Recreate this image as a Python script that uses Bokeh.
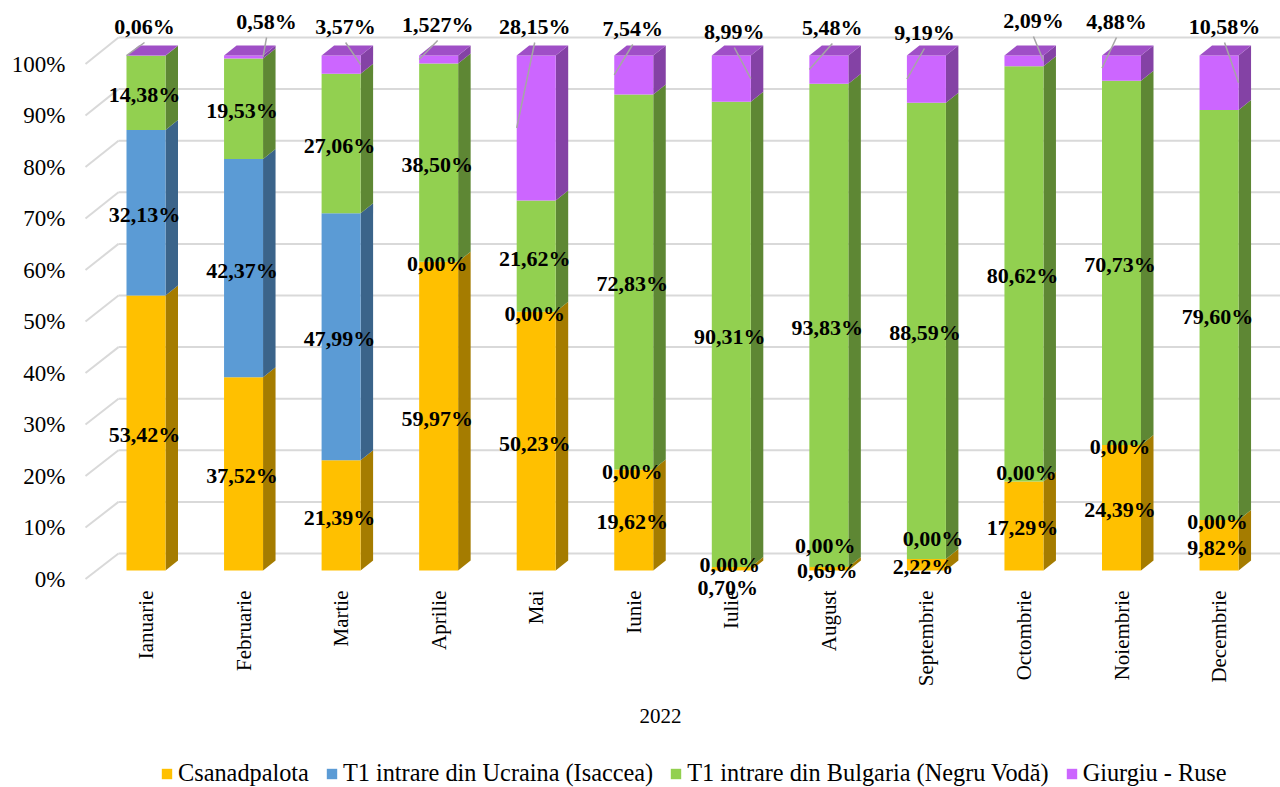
import math
from bokeh.plotting import figure
from bokeh.models import (Range1d, LinearAxis, FixedTicker, ColumnDataSource,
                          LabelSet, Legend, LegendItem)
from bokeh.core.properties import value
from bokeh.embed import file_html
from bokeh.resources import INLINE

# ---------------- data ----------------
months = ["Ianuarie", "Februarie", "Martie", "Aprilie", "Mai", "Iunie", "Iulie",
          "August", "Septembrie", "Octombrie", "Noiembrie", "Decembrie"]
series_names = ["Csanadpalota", "T1 intrare din Ucraina (Isaccea)",
                "T1 intrare din Bulgaria (Negru Vodă)", "Giurgiu - Ruse"]
csanadpalota = [53.42, 37.52, 21.39, 59.97, 50.23, 19.62, 0.70, 0.69, 2.22, 17.29, 24.39, 9.82]
isaccea = [32.13, 42.37, 47.99, 0.00, 0.00, 0.00, 0.00, 0.00, 0.00, 0.00, 0.00, 0.00]
negru_voda = [14.38, 19.53, 27.06, 38.50, 21.62, 72.83, 90.31, 93.83, 88.59, 80.62, 70.73, 79.60]
giurgiu_ruse = [0.06, 0.58, 3.57, 1.527, 28.15, 7.54, 8.99, 5.48, 9.19, 2.09, 4.88, 10.58]
y_ticks = [0, 10, 20, 30, 40, 50, 60, 70, 80, 90, 100]
x_title = "2022"

series_values = [csanadpalota, isaccea, negru_voda, giurgiu_ruse]

# ---------------- style / layout ----------------
front_colors = ["#FFC000", "#5B9BD5", "#92D050", "#CC66FF"]
FONT = "Liberation Serif"


def shade(hex_color, f):
    h = hex_color.lstrip("#")
    r, g, b = (int(h[i:i + 2], 16) for i in (0, 2, 4))
    return "#%02X%02X%02X" % (int(r * f), int(g * f), int(b * f))


side_colors = [shade(c, 0.65) for c in front_colors]
top_colors = [shade(c, 0.78) for c in front_colors]

# page-pixel projection constants (page == figure, template has no margin)
PX_X0, PX_DX = 145.5, 97.55      # centre of first bar, spacing
PY0, PY_PER = 570.0, 5.15        # bar plane: 0% line, px per percent
W, H = 1280, 787
FL, FR, FT, FB = 75, W, 0, H     # frame edges
AXIS_PY = 581                    # where the category axis sits
BAR_W_PX = 39.0
DEPTH_DX, DEPTH_DY = 12.5, 10.0
FRONT_XL, BACK_XL = 85, 118
FRONT_Y0, BACK_Y0, BACK_PER = 578.5, 553.0, 5.16


def X(px):
    return (px - PX_X0) / PX_DX


def Y(py):
    return (PY0 - py) / PY_PER


bw = BAR_W_PX / PX_DX
ddx = DEPTH_DX / PX_DX
ddy = DEPTH_DY / PY_PER

p = figure(width=W, height=H, output_backend="svg", toolbar_location=None,
           x_range=Range1d(X(FL), X(FR)), y_range=Range1d(Y(FB), Y(FT)),
           y_axis_location=None, min_border_left=FL, min_border_right=0,
           min_border_top=0, min_border_bottom=0)
p.outline_line_color = None
p.xgrid.visible = False
p.ygrid.visible = False
p.background_fill_color = "white"

# ---------------- back wall grid ----------------
gx0, gy0, gx1, gy1 = [], [], [], []
for v in y_ticks:
    yb = Y(BACK_Y0 - BACK_PER * v)
    yf = Y(FRONT_Y0 - PY_PER * v)
    gx0 += [X(FRONT_XL), X(BACK_XL)]
    gy0 += [yf, yb]
    gx1 += [X(BACK_XL), X(FR)]
    gy1 += [yb, yb]
p.segment(gx0, gy0, gx1, gy1, line_color="#D9D9D9", line_width=2)

# ---------------- bars ----------------
idx = list(range(len(months)))
bottoms = [0.0] * len(months)
renderers = []
seg_bottoms, seg_tops = [], []
for k, vals in enumerate(series_values):
    tops = [b + v for b, v in zip(bottoms, vals)]
    seg_bottoms.append(list(bottoms))
    seg_tops.append(tops)
    xs, ys = [], []
    for i in idx:
        xr = i + bw / 2
        xs.append([xr, xr + ddx, xr + ddx, xr])
        ys.append([bottoms[i], bottoms[i] + ddy, tops[i] + ddy, tops[i]])
    p.patches(xs, ys, fill_color=side_colors[k], line_color=None)
    r = p.vbar(x=idx, bottom=bottoms, top=tops, width=bw,
               fill_color=front_colors[k], line_color=None)
    renderers.append(r)
    bottoms = tops

# top faces (colour of the top-most non-empty series)
txs, tys, tcol = [], [], []
for i in idx:
    top = bottoms[i]
    k_top = max(k for k in range(4) if series_values[k][i] > 0)
    xl, xr = i - bw / 2, i + bw / 2
    txs.append([xl, xr, xr + ddx, xl + ddx])
    tys.append([top, top, top + ddy, top + ddy])
    tcol.append(top_colors[k_top])
p.patches(txs, tys, fill_color=tcol, line_color=None)

# ---------------- data labels ----------------


def fmt(v):
    s = f"{v:.3f}"
    if s.endswith("0"):
        s = s[:-1]
    return s.replace(".", ",") + "%"


# pixel nudges for labels moved to avoid collisions: (series, month): (dx, dy)
nudges = {(0, 6): (-2, 17), (1, 6): (0, -4), (1, 7): (-2, -23),
          (1, 8): (8, -23), (0, 8): (-2, 0), (1, 9): (4, -11)}
BASE_DY = 2

lx, ly, lt = [], [], []
for k in range(3):
    for i in idx:
        mid = (seg_bottoms[k][i] + seg_tops[k][i]) / 2
        dx, dy = nudges.get((k, i), (0, 0))
        cx = PX_X0 + PX_DX * i + dx - 1.5
        cy = PY0 - PY_PER * mid + BASE_DY + dy
        lx.append(X(cx))
        ly.append(Y(cy))
        lt.append(fmt(series_values[k][i]))

# top (Giurgiu - Ruse) labels with leader lines
top_dx = [-1.5, 23, 4.5, -1, -1.5, -1, 3, 3.5, -2, 9.5, -5, 5.5]
top_y = [26, 21, 26, 24, 26, 28, 31, 27, 32, 20, 21, 26]
top_side = ["L", "R", "R", "L", "L", "L", "R", "L", "L", "R", "L", "R"]
sx0, sy0, sx1, sy1 = [], [], [], []
for i in idx:
    cx = PX_X0 + PX_DX * i
    tx = cx + top_dx[i]
    lx.append(X(tx))
    ly.append(Y(top_y[i]))
    lt.append(fmt(giurgiu_ruse[i]))
    mid = (seg_bottoms[3][i] + seg_tops[3][i]) / 2
    ex = cx - BAR_W_PX / 2 if top_side[i] == "L" else cx + BAR_W_PX / 2
    sx0.append(X(tx))
    sy0.append(Y(top_y[i] + 16))
    sx1.append(X(ex))
    sy1.append(mid)
p.segment(sx0, sy0, sx1, sy1, line_color="#A6A6A6", line_width=1.5)

lab_src = ColumnDataSource(dict(x=lx, y=ly, text=lt))
p.add_layout(LabelSet(x="x", y="y", text="text", source=lab_src,
                      text_font=FONT, text_font_style="bold", text_font_size="22px",
                      text_color="#000000", text_align="center", text_baseline="middle"))

# ---------------- axes ----------------
xax = p.xaxis[0]
xax.fixed_location = Y(AXIS_PY)
xax.ticker = FixedTicker(ticks=idx, minor_ticks=[])
xax.major_label_overrides = {i: m for i, m in enumerate(months)}
xax.major_label_orientation = math.pi / 2
xax.major_label_text_font = FONT
xax.major_label_text_font_size = "21px"
xax.major_label_text_color = "#000000"
xax.major_label_standoff = 9
xax.axis_line_color = None
xax.major_tick_line_color = None
xax.minor_tick_line_color = None
xax.major_tick_out = 0
xax.major_tick_in = 0

# axis title
p.text(x=[X(660)], y=[Y(715)], text=[x_title], text_font=value(FONT),
       text_font_size="21px", text_color="#000000",
       text_align="center", text_baseline="middle")

p.extra_y_ranges = {"front": Range1d((FRONT_Y0 - FB) / PY_PER, (FRONT_Y0 - FT) / PY_PER)}
yax = LinearAxis(y_range_name="front", ticker=FixedTicker(ticks=y_ticks, minor_ticks=[]))
yax.major_label_overrides = {v: f"{v}%" for v in y_ticks}
yax.major_label_text_font = FONT
yax.major_label_text_font_size = "23px"
yax.major_label_text_color = "#000000"
yax.major_label_standoff = 10
yax.axis_line_color = None
yax.major_tick_line_color = None
yax.minor_tick_line_color = None
yax.major_tick_out = 0
yax.major_tick_in = 0
p.add_layout(yax, "left")

# ---------------- legend ----------------
legend = Legend(items=[LegendItem(label=n, renderers=[r]) for n, r in zip(series_names, renderers)],
                orientation="horizontal", location=(160 - FL, 0),
                glyph_width=13, glyph_height=13, label_standoff=5, spacing=16,
                padding=0, margin=0, border_line_alpha=0, background_fill_alpha=0,
                label_text_font=FONT, label_text_font_size="24.3px", label_text_color="#000000")
p.add_layout(legend, "center")

open("out.html", "w").write(file_html(p, INLINE))
